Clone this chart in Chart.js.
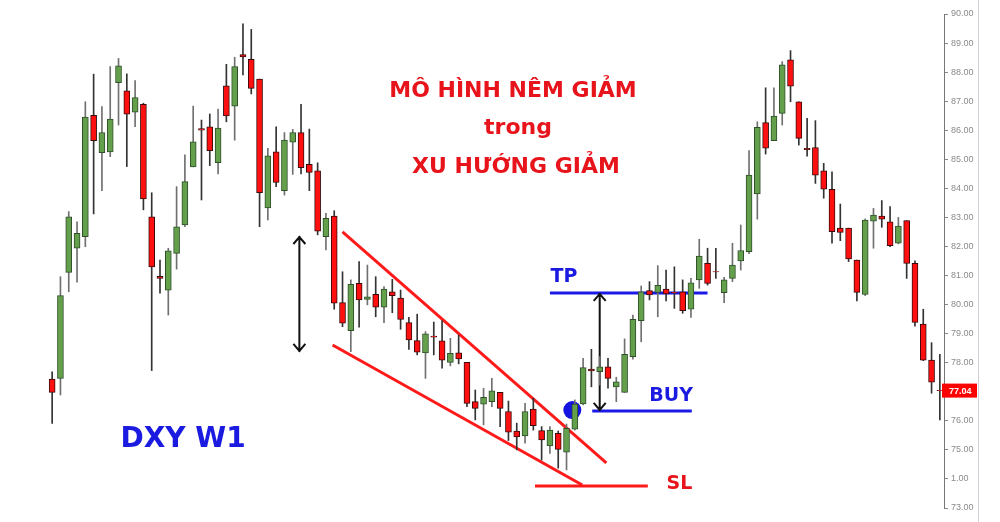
<!DOCTYPE html>
<html>
<head>
<meta charset="utf-8">
<script src="https://cdn.jsdelivr.net/npm/chart.js@4"></script>
<style>
  html, body { margin: 0; padding: 0; background: #fff; }
  #wrap { width: 1000px; height: 522px; position: relative; }
</style>
</head>
<body>
<div id="wrap"><canvas id="dxyChart"></canvas></div>
<script>
// DXY weekly candles (oldest first)
const opens = [77.44, 77.46, 81.11, 81.94, 82.34, 86.51, 85.23, 85.25, 87.64, 87.36,
  86.62, 86.89, 83.02, 80.97, 80.50, 81.76, 82.74, 84.74, 86.06, 86.12,
  84.88, 87.53, 86.83, 88.60, 88.44, 87.76, 83.33, 85.26, 83.92, 85.59,
  85.92, 84.83, 84.60, 82.34, 83.05, 80.07, 79.10, 80.73, 80.18, 80.35,
  79.91, 80.44, 80.22, 79.38, 78.76, 78.34, 78.92, 78.75, 78.01, 78.34,
  78.01, 76.66, 76.57, 76.66, 76.98, 76.32, 75.65, 75.48, 76.40, 75.66,
  75.14, 75.57, 74.92, 75.71, 76.58, 77.78, 77.69, 77.86, 77.17, 76.98,
  78.21, 79.45, 80.48, 80.42, 80.53, 80.42, 80.44, 79.84, 80.85, 81.42,
  81.14, 80.41, 80.90, 81.50, 81.82, 83.81, 86.26, 85.64, 86.58, 88.42,
  86.98, 85.38, 85.40, 84.60, 83.97, 82.63, 82.63, 81.53, 80.35, 82.87,
  83.05, 82.85, 82.11, 82.89, 81.42, 79.33, 78.09, 77.05];
const highs = [77.69, 80.96, 83.20, 82.85, 86.98, 87.93, 86.81, 88.19, 88.47, 87.94,
  87.71, 86.93, 83.85, 81.53, 81.94, 84.06, 85.15, 86.83, 86.35, 86.56,
  86.73, 88.27, 88.51, 89.66, 89.47, 87.76, 85.38, 86.12, 85.92, 86.03,
  86.89, 86.04, 84.88, 83.14, 83.23, 81.13, 80.85, 81.48, 81.36, 80.96,
  80.62, 80.87, 80.50, 79.56, 79.67, 79.07, 79.40, 79.45, 78.84, 78.95,
  78.01, 77.06, 77.12, 77.46, 76.98, 76.68, 75.92, 76.60, 76.78, 75.80,
  75.80, 75.65, 75.89, 76.72, 78.15, 78.46, 78.21, 78.15, 77.50, 78.82,
  79.64, 80.64, 80.79, 81.34, 81.19, 81.30, 80.85, 80.90, 82.25, 81.94,
  81.94, 80.94, 82.11, 82.74, 85.30, 86.29, 87.46, 87.46, 88.36, 88.74,
  86.98, 86.41, 86.33, 84.86, 84.57, 83.46, 82.63, 81.53, 82.95, 83.31,
  83.58, 83.37, 83.00, 82.89, 81.51, 79.84, 78.69, 78.29];
const lows = [75.91, 76.89, 80.44, 80.77, 81.99, 83.12, 83.92, 85.09, 86.18, 84.75,
  86.12, 83.26, 77.73, 80.39, 79.64, 81.22, 82.68, 84.74, 83.60, 84.78,
  84.50, 86.29, 85.66, 87.90, 87.25, 82.68, 82.91, 84.06, 83.77, 84.48,
  84.50, 83.92, 82.40, 81.88, 79.84, 79.24, 78.38, 79.22, 79.99, 79.58,
  79.38, 79.72, 79.15, 78.46, 78.27, 77.46, 78.27, 77.81, 77.89, 77.96,
  76.49, 76.03, 75.86, 76.49, 75.80, 75.32, 75.00, 75.23, 75.68, 74.65,
  74.88, 74.37, 74.31, 75.68, 76.55, 77.17, 77.23, 77.12, 76.66, 76.98,
  78.12, 78.72, 80.16, 79.58, 80.13, 79.87, 79.70, 79.56, 80.56, 80.67,
  80.90, 80.07, 80.79, 81.19, 81.75, 82.94, 85.18, 85.64, 86.18, 86.98,
  85.49, 85.11, 84.17, 83.66, 82.11, 82.20, 81.48, 80.13, 80.31, 81.94,
  82.66, 81.99, 82.09, 80.90, 79.26, 78.07, 76.95, 76.03];
const closes = [76.98, 80.31, 83.02, 82.45, 86.45, 85.64, 85.92, 86.38, 88.22, 86.55,
  87.12, 83.64, 81.30, 80.90, 81.85, 82.68, 84.23, 85.60, 86.00, 85.30,
  86.07, 86.49, 88.19, 88.52, 87.44, 83.85, 85.12, 84.20, 85.66, 85.92,
  84.71, 84.55, 82.53, 82.97, 80.05, 79.36, 80.70, 80.16, 80.27, 79.91,
  80.53, 80.31, 79.49, 78.78, 78.36, 78.99, 78.88, 78.09, 78.32, 78.13,
  76.60, 76.43, 76.81, 77.03, 76.43, 75.61, 75.45, 76.32, 75.83, 75.34,
  75.68, 75.02, 75.74, 76.58, 77.83, 77.72, 77.86, 77.46, 77.34, 78.29,
  79.49, 80.44, 80.33, 80.66, 80.37, 80.40, 79.79, 80.75, 81.67, 80.73,
  81.12, 80.85, 81.36, 81.86, 84.46, 86.10, 85.38, 86.49, 88.25, 87.52,
  85.72, 85.33, 84.45, 83.97, 82.51, 82.48, 81.57, 80.42, 82.91, 83.08,
  82.94, 82.03, 82.70, 81.42, 79.39, 78.09, 77.33, 77.04];

const categories = opens.map((_, i) => 'W' + (i + 1));

// price axis
const tickValues = [73, 74, 75, 76, 77, 78, 79, 80, 81, 82, 83, 84, 85, 86, 87, 88, 89, 90];
const tickLabels = ['73.00', '1.00', '75.00', '76.00', '77.00', '78.00', '79.00', '80.00', '81.00',
  '82.00', '83.00', '84.00', '85.00', '86.00', '87.00', '88.00', '89.00', '90.00'];
const lastPrice = 77.04;

// drawn lines, in [candle index, price]
const wedgeUpper = [[35.0, 82.50], [66.8, 74.55]];
const wedgeLower = [[33.8, 78.61], [63.9, 73.79]];
const slLine = [[58.2, 73.76], [71.8, 73.76]];
const tpLine = [[60.0, 80.40], [79.0, 80.40]];
const buyLine = [[65.1, 76.34], [77.1, 76.34]];
const arrowLeft = [29.8, 82.36, 78.37];
const arrowRight = [66.0, 80.40, 76.34];
const entryPoint = [62.7, 76.37];

const GREEN = '#64a04c';
const RED = '#ff1010';

const isUp = closes.map((c, i) => c >= opens[i]);

const annotations = {
  id: 'annotations',
  beforeDatasetsDraw(chart) {
    const { ctx, scales: { x, y } } = chart;
    const px = v => x.getPixelForValue(v);
    const py = v => y.getPixelForValue(v);
    ctx.save();

    function seg(pts, color, width) {
      ctx.beginPath();
      ctx.strokeStyle = color;
      ctx.lineWidth = width;
      ctx.moveTo(px(pts[0][0]), py(pts[0][1]));
      ctx.lineTo(px(pts[1][0]), py(pts[1][1]));
      ctx.stroke();
    }
    function arrow(a) {
      const ax = px(a[0]), top = py(a[1]), bot = py(a[2]);
      ctx.strokeStyle = '#111';
      ctx.lineWidth = 2;
      ctx.beginPath();
      ctx.moveTo(ax, top); ctx.lineTo(ax, bot);
      ctx.moveTo(ax - 6, top + 8); ctx.lineTo(ax, top + 1); ctx.lineTo(ax + 6, top + 8);
      ctx.moveTo(ax - 6, bot - 8); ctx.lineTo(ax, bot - 1); ctx.lineTo(ax + 6, bot - 8);
      ctx.stroke();
    }

    seg(wedgeUpper, '#ff1a1a', 3);
    seg(wedgeLower, '#ff1a1a', 3);
    seg(slLine, '#ff1a1a', 3);
    seg(tpLine, '#1a1ae6', 3);
    seg(buyLine, '#1a1ae6', 3);
    arrow(arrowLeft);
    arrow(arrowRight);

    ctx.fillStyle = '#1414e0';
    ctx.beginPath();
    ctx.arc(px(entryPoint[0]), py(entryPoint[1]), 9, 0, Math.PI * 2);
    ctx.fill();

    // texts
    ctx.textAlign = 'center';
    ctx.textBaseline = 'middle';
    ctx.fillStyle = '#e8141c';
    ctx.font = 'bold 22px "DejaVu Sans"';
    ctx.fillText('MÔ HÌNH NÊM GIẢM', 513, 91);
    ctx.fillText('trong', 518, 128);
    ctx.fillText('XU HƯỚNG GIẢM', 516, 167);

    ctx.fillStyle = '#1a1ae0';
    ctx.font = 'bold 28px "DejaVu Sans"';
    ctx.fillText('DXY W1', 183, 440);

    ctx.font = 'bold 19px "DejaVu Sans"';
    ctx.fillText('TP', px(61.7), py(80.95));
    ctx.fillText('BUY', px(74.6), py(76.86));
    ctx.fillStyle = '#e8141c';
    ctx.fillText('SL', px(75.6), py(73.83));
    ctx.restore();
  },
  afterDraw(chart) {
    const { ctx, chartArea, scales: { y } } = chart;
    ctx.save();
    ctx.strokeStyle = '#d0d0d8';
    ctx.lineWidth = 1;
    ctx.beginPath();
    ctx.moveTo(978.5, 0);
    ctx.lineTo(978.5, chart.height);
    ctx.stroke();

    const ly = y.getPixelForValue(lastPrice);
    ctx.fillStyle = '#ff0000';
    ctx.fillRect(chartArea.right - 2, ly - 7, 35, 14);
    ctx.fillStyle = '#fff';
    ctx.font = 'bold 9px "Liberation Sans"';
    ctx.textAlign = 'left';
    ctx.textBaseline = 'middle';
    ctx.fillText(lastPrice.toFixed(2), chartArea.right + 5, ly + 1);
    ctx.restore();
  }
};

new Chart(document.getElementById('dxyChart'), {
  type: 'bar',
  data: {
    labels: categories,
    datasets: [
      {
        label: 'body',
        data: opens.map((o, i) => [o, closes[i]]),
        backgroundColor: isUp.map(u => u ? GREEN : RED),
        borderColor: isUp.map(u => u ? '#2f4f2a' : '#3a0a0a'),
        borderWidth: 1,
        borderSkipped: false,
        barThickness: 6,
        grouped: false
      },
      {
        label: 'wick',
        data: lows.map((l, i) => [l, highs[i]]),
        backgroundColor: isUp.map(u => u ? '#707070' : '#333'),
        borderWidth: 0,
        barThickness: 1,
        grouped: false
      }
    ]
  },
  options: {
    responsive: true,
    maintainAspectRatio: false,
    animation: false,
    layout: { padding: { left: 48, top: 14, bottom: 14, right: 0 } },
    plugins: { legend: { display: false }, tooltip: { enabled: false } },
    scales: {
      x: { display: false, offset: true },
      y: {
        position: 'right',
        min: 73,
        max: 90,
        afterFit: scale => { scale.width = 56; },
        afterBuildTicks: scale => { scale.ticks = tickValues.map(v => ({ value: v })); },
        ticks: {
          autoSkip: false,
          padding: 3,
          color: '#8a8a8a',
          font: { size: 9, family: 'Liberation Sans' },
          callback: (value, index) => tickLabels[index]
        },
        grid: { drawOnChartArea: false, drawTicks: true, tickLength: 4, color: '#888' },
        border: { display: true, color: '#777' }
      }
    }
  },
  plugins: [annotations]
});
</script>
</body>
</html>
